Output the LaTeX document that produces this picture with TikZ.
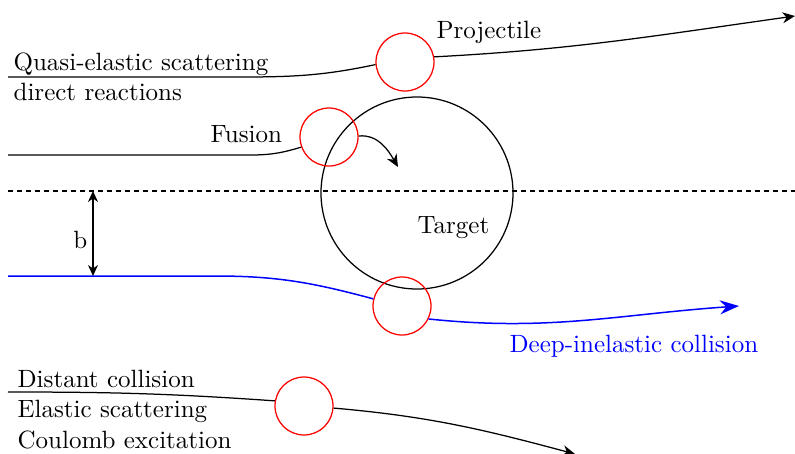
\documentclass[tikz,border=0pt]{standalone}
\usetikzlibrary{arrows.meta, positioning}

\begin{document}
\begin{tikzpicture}[x=0.4pt, y=-0.4pt, line width=0.5pt,
    nucleus/.style={circle, draw=red, minimum size=23.2pt, inner sep=0pt},
    label/.style={inner sep=0pt, anchor=base west},
    tip/.style={-{Stealth[length=5pt, width=4.4pt]}},
    bigtip/.style={-{Stealth[length=7.6pt, width=5.6pt]}}]
    \useasboundingbox (0, 0) rectangle (795, 454);
    \node[circle, draw, minimum size=76.8pt, inner sep=0pt] (target) at (417, 193) {};
    \node[nucleus] (quasi) at (405, 62) {};
    \node[nucleus] (fusion) at (329, 137) {};
    \node[nucleus] (deep) at (402, 306) {};
    \node[nucleus] (distant) at (304, 406) {};
    \coordinate (axisL) at (8, 191);
    \coordinate (axisR) at (795, 191);
    \coordinate (quasiIn) at (8, 77);
    \coordinate (quasiOut) at (795, 16);
    \coordinate (fusionIn) at (8, 155);
    \coordinate (fusionOut) at (398, 167);
    \coordinate (deepIn) at (8, 276);
    \coordinate (deepOut) at (739, 306);
    \coordinate (distantIn) at (8, 392);
    \coordinate (distantOut) at (575, 454);
    \coordinate (bTop) at (93, 191);
    \coordinate (bBot) at (93, 276);
    \node[label] (projectile) at (436, 38) {Projectile};
    \node[label] (quasiA) at (13, 70) {Quasi-elastic scattering};
    \node[label] (quasiB) at (13, 100) {direct reactions};
    \node[label] (fusionL) at (210, 142) {Fusion};
    \node[label] (targetL) at (417, 233) {Target};
    \node[label, text=blue] (deepL) at (509, 352) {Deep-inelastic collision};
    \node[label] (distantA) at (17, 387) {Distant collision};
    \node[label] (distantB) at (17, 417) {Elastic scattering};
    \node[label] (distantC) at (17, 448) {Coulomb excitation};
    \node[inner sep=0pt, anchor=base east] (bL) at (88, 248) {b};
    \draw[line width=0.6pt, dash pattern=on 2pt off 1.6pt] (axisL) -- (axisR);
    \draw (quasiIn) -- (240, 77) to[out=0, in=192] (quasi.185);
    \draw[tip] (quasi.10) to[out=3, in=188] (quasiOut);
    \draw (fusionIn) -- (250, 155) to[out=0, in=197] (fusion.200);
    \draw[tip] (fusion.2) to[out=5, in=120] (fusionOut);
    \draw[blue, line width=0.6pt] (deepIn) -- (215, 276) to[out=0, in=165] (deep.166);
    \draw[blue, line width=0.6pt, bigtip] (deep.334) to[out=-6, in=184] (deepOut);
    \draw (distantIn) to[out=0, in=176] (distant.170);
    \draw[tip] (distant.356) to[out=-5, in=165] (distantOut);
    \draw[{Stealth[length=4.4pt, width=4pt]}-{Stealth[length=4.4pt, width=4pt]}] (bTop) -- (bBot);
\end{tikzpicture}
\end{document}
